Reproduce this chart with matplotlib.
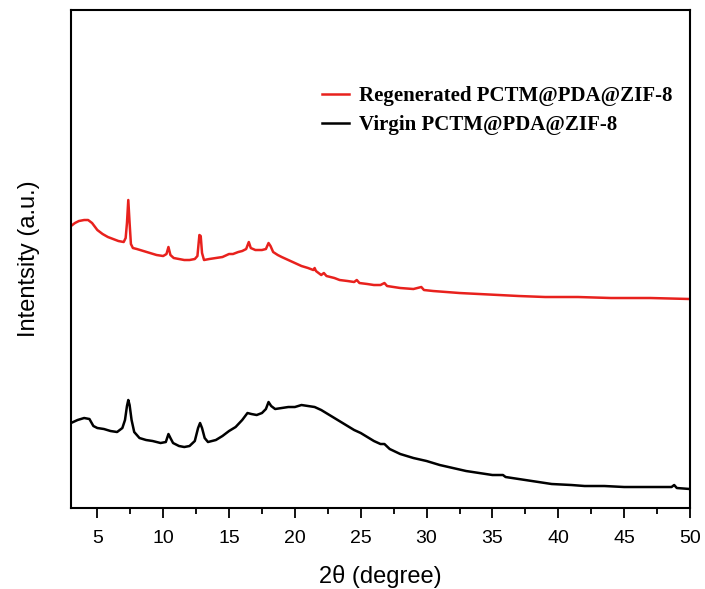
import numpy as np
import matplotlib
matplotlib.use('Agg')
import matplotlib.pyplot as plt
from matplotlib.ticker import MultipleLocator

# XRD patterns (2theta in degree, intensity in a.u.)
regen_2theta = [3.0, 3.3, 3.6, 4.0, 4.3, 4.6, 5.0, 5.4, 5.8, 6.2, 6.6, 7.0, 7.15, 7.25,
                7.35, 7.45, 7.55, 7.7, 8.0, 8.5, 9.0, 9.5, 10.0, 10.25, 10.4, 10.55,
                10.8, 11.2, 11.6, 12.0, 12.4, 12.6, 12.75, 12.85, 12.95, 13.1, 13.5,
                14.0, 14.5, 15.0, 15.3, 15.7, 16.0, 16.3, 16.5, 16.65, 17.0, 17.5,
                17.8, 18.0, 18.15, 18.35, 18.7, 19.0, 19.5, 20.0, 20.5, 21.0, 21.4,
                21.5, 21.6, 22.0, 22.2, 22.4, 23.0, 23.4, 24.0, 24.5, 24.7, 24.9,
                25.5, 26.0, 26.5, 26.8, 27.0, 27.5, 28.0, 29.0, 29.6, 29.8, 30.5,
                31.5, 32.5, 34.0, 35.5, 37.0, 39.0, 41.5, 44.0, 47.0, 50.0]
regen_int = [282, 285, 287, 288, 288, 285, 278, 274, 271, 269, 267, 266, 270, 285,
             308, 285, 264, 260, 259, 257, 255, 253, 252, 254, 261, 253,
             250, 249, 248, 248, 249, 252, 273, 272, 255, 248, 249,
             250, 251, 254, 254, 256, 257, 259, 266, 260, 258, 258,
             259, 265, 262, 256, 253, 251, 248, 245, 242, 240, 238,
             240, 237, 233, 235, 232, 230, 228, 227, 226, 228, 225,
             224, 223, 223, 225, 222, 221, 220, 219, 221, 218, 217,
             216, 215, 214, 213, 212, 211, 211, 210, 210, 209]

virgin_2theta = [3.0, 3.5, 4.0, 4.4, 4.7, 5.0, 5.5, 6.0, 6.5, 6.9, 7.1, 7.25, 7.35,
                 7.45, 7.6, 7.8, 8.2, 8.7, 9.2, 9.8, 10.2, 10.4, 10.55, 10.75, 11.2,
                 11.6, 12.0, 12.4, 12.65, 12.8, 12.95, 13.15, 13.4, 14.0, 14.5, 15.0,
                 15.5, 16.0, 16.4, 16.7, 17.1, 17.5, 17.8, 18.0, 18.2, 18.5, 19.0,
                 19.5, 20.0, 20.5, 21.0, 21.5, 22.0, 22.5, 23.0, 23.5, 24.0, 24.5,
                 25.0, 25.5, 26.0, 26.5, 26.8, 27.2, 28.0, 29.0, 30.0, 31.0, 32.0,
                 33.0, 34.0, 35.0, 35.8, 36.0, 37.0, 38.0, 39.5, 41.0, 42.0, 43.5,
                 45.0, 47.0, 48.6, 48.8, 49.0, 50.0]
virgin_int = [85, 88, 90, 89, 82, 80, 79, 77, 76, 80, 88, 102, 108,
              103, 88, 76, 70, 68, 67, 65, 66, 74, 70, 65, 62,
              61, 62, 67, 80, 85, 80, 70, 66, 68, 72, 77,
              81, 88, 95, 94, 93, 95, 99, 106, 102, 99, 100,
              101, 101, 103, 102, 101, 98, 94, 90, 86, 82, 78,
              75, 71, 67, 64, 64, 59, 54, 50, 47, 43, 40,
              37, 35, 33, 33, 31, 29, 27, 24, 23, 22, 22,
              21, 21, 21, 23, 20, 19]

fig = plt.figure(figsize=(7.05, 5.89), dpi=100)
ax = fig.add_axes([0.1007, 0.1375, 0.878, 0.8455])

ax.plot(regen_2theta, regen_int, color='#e8211d', lw=1.8,
        label='Regenerated PCTM@PDA@ZIF-8')
ax.plot(virgin_2theta, virgin_int, color='black', lw=1.8,
        label='Virgin PCTM@PDA@ZIF-8')

ax.set_xlim(3, 50)
ax.set_ylim(0, 498)
ax.xaxis.set_major_locator(MultipleLocator(5))
ax.xaxis.set_minor_locator(MultipleLocator(2.5))
ax.tick_params(axis='x', which='major', direction='out', length=7, width=1.3,
               labelsize=14, pad=9)
ax.tick_params(axis='x', which='minor', direction='out', length=4, width=1.3)
ax.set_yticks([])
for lab in ax.get_xticklabels():
    lab.set_family('Liberation Sans')
for s in ax.spines.values():
    s.set_linewidth(1.5)

ax.set_xlabel('2θ (degree)', fontsize=17, family='Liberation Sans', labelpad=13)
ax.set_ylabel('Intentsity (a.u.)', fontsize=17, family='Liberation Sans', labelpad=22)

ax.legend(loc='upper left', bbox_to_anchor=(0.375, 0.885), frameon=False,
          prop={'family': 'Liberation Serif', 'weight': 'bold', 'size': 15},
          handlelength=1.3, handletextpad=0.5, labelspacing=0.45)

fig.savefig('out.png', dpi=100)
